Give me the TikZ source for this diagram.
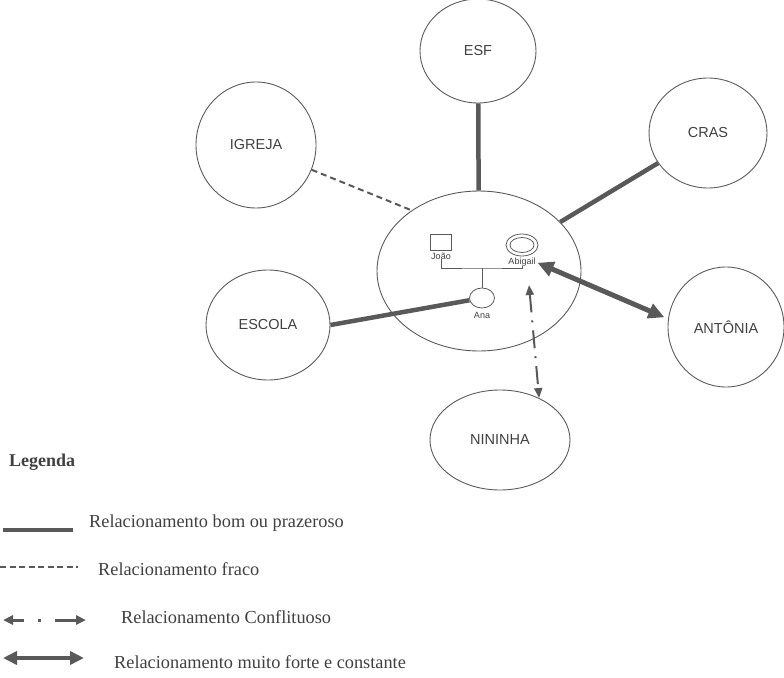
\documentclass[tikz,border=0pt]{standalone}
\usepackage{fontspec}
\setmainfont{Liberation Serif}
\setsansfont{Liberation Sans}
\usetikzlibrary{shapes.geometric,arrows.meta}
\definecolor{lc}{HTML}{595959}
\definecolor{bc}{HTML}{5A5A5A}
\definecolor{tc}{HTML}{404040}
\begin{document}
\begin{tikzpicture}[x=1pt,y=-1pt,
 circ/.style={ellipse, draw=bc, line width=0.9pt, inner sep=0pt, font=\sffamily\fontsize{14.5}{14.5}\selectfont, text=tc},
 good/.style={draw=lc, line width=4.5pt},
 weak/.style={draw=lc, line width=2pt, dash pattern=on 6pt off 4pt},
 conf/.style={draw=lc, line width=2pt, dash pattern=on 18pt off 8pt on 2pt off 8pt, {Triangle[length=10pt,width=8pt]}-{Triangle[length=10pt,width=8pt]}},
 strong/.style={draw=lc, line width=5pt, {Triangle[length=16pt,width=15pt]}-{Triangle[length=16pt,width=15pt]}},
 small/.style={font=\sffamily\fontsize{9}{9}\selectfont, text=tc, inner sep=0pt},
 legtext/.style={font=\fontsize{18.3}{18.3}\selectfont, text=tc, anchor=west, inner sep=0pt},
 fam/.style={draw=bc, line width=0.9pt}
]
\useasboundingbox (0,0) rectangle (784,677);
% outer ellipses
\node[circ, minimum width=116pt, minimum height=104pt] (esf) at (478,51) {ESF};
\node[circ, minimum width=120pt, minimum height=126pt] (igreja) at (256,145) {IGREJA};
\node[circ, minimum width=118pt, minimum height=110pt] (cras) at (708,133) {CRAS};
\node[circ, minimum width=204pt, minimum height=160pt] (famc) at (479,271) {};
\node[circ, minimum width=124pt, minimum height=110pt] (escola) at (268,325) {ESCOLA};
\node[circ, minimum width=116pt, minimum height=120pt] (antonia) at (726,327) {ANTÔNIA};
\node[circ, minimum width=140pt, minimum height=100pt] (nininha) at (500,440) {NININHA};
% genogram
\node[draw=bc, line width=0.8pt, minimum width=21pt, minimum height=16pt, inner sep=0pt] (joao) at (441,242) {};
\node[small] (joaol) at (441,256) {João};
\node[ellipse, draw=bc, line width=0.8pt, minimum width=32pt, minimum height=22pt, inner sep=0pt] (abig) at (522,245) {};
\node[ellipse, draw=bc, line width=0.8pt, minimum width=24pt, minimum height=15pt, inner sep=0pt] (abigin) at (522,245) {};
\node[small] (abigl) at (522,262) {Abigail};
\node[ellipse, draw=bc, line width=0.8pt, minimum width=25pt, minimum height=20pt, inner sep=0pt] (ana) at (482,298) {};
\node[small] (anal) at (482,315) {Ana};
\coordinate (mid) at (482,268);
\draw[fam] (joaol.south) |- (mid) -| (abigl.south);
\draw[fam] (mid) -- (ana);
% connectors
\draw[good] (esf) -- (famc);
\draw[good] (cras) -- (famc);
\draw[weak] (igreja.-24) -- (famc.138);
\draw[good] (escola.east) -- (ana);
\draw[strong, shorten <=2pt, shorten >=4pt] (abigl.east) -- (antonia.172);
\coordinate (cup) at (529,285);
\draw[conf] (cup) -- (nininha.47);
% legend
\node[font=\bfseries\fontsize{18}{18}\selectfont, text=tc, anchor=west, inner sep=0pt] (leg) at (9,462) {Legenda};
\coordinate (l1a) at (3,530); \coordinate (l1b) at (73,530);
\draw[draw=lc, line width=4.5pt] (l1a) -- (l1b);
\node[legtext] (t1) at (89,523) {Relacionamento bom ou prazeroso};
\coordinate (l2a) at (0,567); \coordinate (l2b) at (78,567);
\draw[draw=lc, line width=1.5pt, dash pattern=on 6pt off 3.5pt] (l2a) -- (l2b);
\node[legtext] (t2) at (98,569) {Relacionamento fraco};
\coordinate (l3a) at (3,620); \coordinate (l3b) at (86,620);
\draw[draw=lc, line width=3pt, dash pattern=on 12pt off 14pt on 3pt off 14pt on 30pt, {Triangle[length=10pt,width=9pt]}-{Triangle[length=10pt,width=9pt]}] (l3a) -- (l3b);
\node[legtext] (t3) at (121,617) {Relacionamento Conflituoso};
\coordinate (l4a) at (3,658); \coordinate (l4b) at (84,658);
\draw[draw=lc, line width=4.5pt, {Triangle[length=14pt,width=13pt]}-{Triangle[length=14pt,width=13pt]}] (l4a) -- (l4b);
\node[legtext] (t4) at (114,662) {Relacionamento muito forte e constante};
\end{tikzpicture}
\end{document}
